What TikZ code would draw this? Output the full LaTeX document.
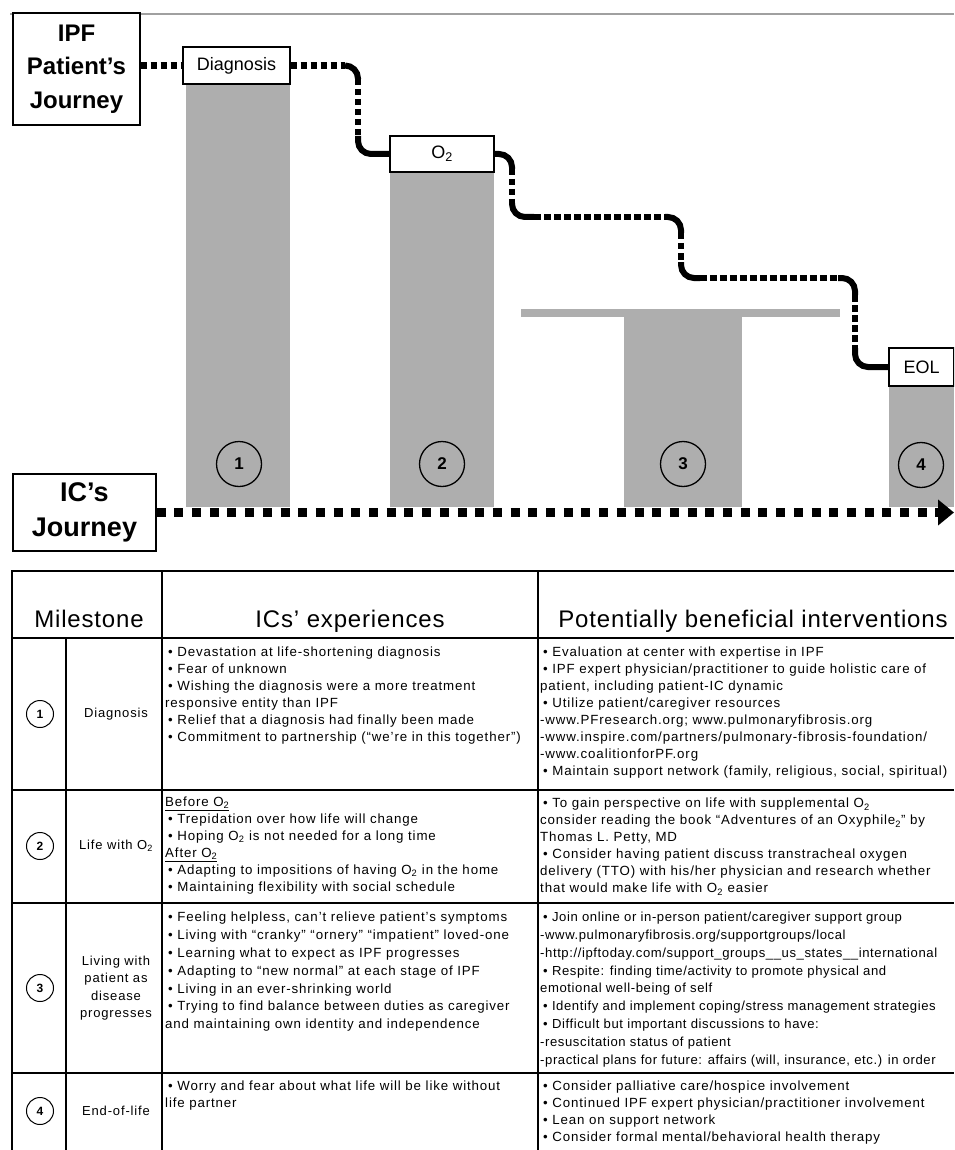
\documentclass[tikz,border=0pt]{standalone}
\usepackage{fontspec}
\setmainfont{Liberation Sans}
\newfontfamily\bodyfont[LetterSpace=6.5]{Liberation Sans}
\newfontfamily\bodyfontn[LetterSpace=4.5]{Liberation Sans}
\newfontfamily\headfont[LetterSpace=3.5]{Liberation Sans}
\usetikzlibrary{arrows.meta}
\definecolor{bargray}{RGB}{174,174,174}
\definecolor{linegray}{RGB}{160,160,160}
\newcommand{\bul}{\hspace*{3pt}•\ }
\newcommand{\Ox}{O\textsubscript{2}}
\begin{document}
\begin{tikzpicture}[x=1pt,y=-1pt,
  box/.style={draw, line width=1.3pt, fill=white, inner sep=0},
  dots/.style={line width=6.5pt, dash pattern=on 6.5pt off 3.5pt},
  bendline/.style={line width=6pt, rounded corners=13pt},
  icdots/.style={line width=9pt, dash pattern=on 9pt off 8.7pt},
  num/.style={draw, circle, line width=1.3pt, minimum size=45pt, inner sep=0, font=\fontsize{17}{17}\selectfont\bfseries},
  tnum/.style={draw, circle, line width=1pt, minimum size=27pt, inner sep=0, font=\fontsize{12}{12}\selectfont\bfseries},
  tline/.style={line width=2.4pt},
  head/.style={anchor=base, inner sep=0, font=\headfont\fontsize{24}{24}\selectfont},
  lbl/.style={inner sep=0, align=center, font=\bodyfont\fontsize{13}{17.5}\selectfont},
  body/.style={anchor=north west, inner sep=0, align=left, font=\bodyfont\fontsize{13.3}{17}\selectfont},
  bodyb/.style={anchor=north west, inner sep=0, align=left, font=\bodyfont\fontsize{13.3}{17.8}\selectfont},
  bodyn/.style={anchor=north west, inner sep=0, align=left, font=\bodyfontn\fontsize{13.1}{17.8}\selectfont}]
\useasboundingbox (0,0) rectangle (954,1150);
\clip (0,0) rectangle (954,1150);
\fill[white] (0,0) rectangle (954,1150);
% top rule
\draw[linegray, line width=2.7pt] (10,14) -- (954,14);
% bars
\fill[bargray] (186,84) rectangle (290,507);
\fill[bargray] (390,172) rectangle (494,507);
\fill[bargray] (521,309) rectangle (840,317);
\fill[bargray] (624,317) rectangle (742,507);
\fill[bargray] (889,386) rectangle (954,507);
% boxes
\node[box, minimum width=127pt, minimum height=112pt, align=center, font=\fontsize{24}{33.5}\selectfont\bfseries] (ipf) at (76.5,69) {IPF\\Patient’s\\Journey};
\node[box, minimum width=107pt, minimum height=37pt, font=\fontsize{18}{18}\selectfont] (diag) at (236.5,65.5) {Diagnosis};
\node[box, minimum width=104pt, minimum height=36pt, font=\fontsize{18}{18}\selectfont] (o2) at (442,154) {\Ox};
\node[box, minimum width=65pt, minimum height=38pt, font=\fontsize{18}{18}\selectfont] (eol) at (921.5,367) {EOL};
\node[box, minimum width=143pt, minimum height=77pt, align=center, font=\fontsize{27}{35}\selectfont\bfseries] (ic) at (84.5,512.5) {IC’s\\Journey};
% circles
\node[num] (n1) at (239,464) {1};
\node[num] (n2) at (442,464) {2};
\node[num] (n3) at (683,464) {3};
\node[num] (n4) at (921,465) {4};
% patient journey path
\coordinate (a1) at (345,65.5);
\coordinate (a2) at (358,65.5);
\coordinate (a3) at (358,79);
\coordinate (a4) at (358,136);
\coordinate (a5) at (358,154);
\coordinate (b1) at (512,154);
\coordinate (b2) at (512,169);
\coordinate (b3) at (512,203);
\coordinate (b4) at (512,217);
\coordinate (b5) at (534,217);
\coordinate (c1) at (665,217);
\coordinate (c2) at (681,217);
\coordinate (c3) at (681,233);
\coordinate (c4) at (681,262);
\coordinate (c5) at (681,278);
\coordinate (c6) at (700,278);
\coordinate (d1) at (838,278);
\coordinate (d2) at (855,278);
\coordinate (d3) at (855,295);
\coordinate (d4) at (855,348);
\coordinate (d5) at (855,367);
\draw[dots] (ipf.east |- diag.west) -- (diag.west);
\draw[dots] (diag.east) -- (a1);
\draw[bendline] (a1) -- (a2) -- (a3);
\draw[dots] (a3) -- (a4);
\draw[bendline] (a4) -- (a5) -- (o2.west);
\draw[bendline] (o2.east) -- (b1) -- (b2);
\draw[dots] (b2) -- (b3);
\draw[bendline] (b3) -- (b4) -- (b5);
\draw[dots] (b5) -- (c1);
\draw[bendline] (c1) -- (c2) -- (c3);
\draw[dots] (c3) -- (c4);
\draw[bendline] (c4) -- (c5) -- (c6);
\draw[dots] (c6) -- (d1);
\draw[bendline] (d1) -- (d2) -- (d3);
\draw[dots] (d3) -- (d4);
\draw[bendline] (d4) -- (d5) -- (eol.west);
% IC journey
\coordinate (icend) at (954,512.5);
\draw[icdots, -{Triangle[length=16pt,width=25pt]}] (ic.east) -- (icend);
% table lines
\draw[tline] (12,571) -- (954,571);
\draw[tline] (12,638) -- (954,638);
\draw[tline] (12,790) -- (954,790);
\draw[tline] (12,903) -- (954,903);
\draw[tline] (12,1073) -- (954,1073);
\draw[tline] (12,570) -- (12,1150);
\draw[tline] (66,638) -- (66,1150);
\draw[tline] (162,570) -- (162,1150);
\draw[tline] (538,570) -- (538,1150);
% header
\node[head] (h1) at (89,627) {Milestone};
\node[head] (h2) at (350,627) {ICs’ experiences};
\node[head] (h3) at (753,627) {Potentially beneficial interventions};
% milestone column
\node[tnum] (t1) at (40,714) {1};
\node[tnum] (t2) at (40,846) {2};
\node[tnum] (t3) at (40,988) {3};
\node[tnum] (t4) at (40,1111) {4};
\node[lbl] (l1) at (116,714) {Diagnosis};
\node[lbl] (l2) at (116,846) {Life with \Ox};
\node[lbl] (l3) at (116,988) {Living with\\patient as\\disease\\progresses};
\node[lbl] (l4) at (116,1111) {End-of-life};
% row 1
\node[body] (e1) at (165,647) {\bul Devastation at life-shortening diagnosis\\
\bul Fear of unknown\\
\bul Wishing the diagnosis were a more treatment\\
responsive entity than IPF\\
\bul Relief that a diagnosis had finally been made\\
\bul Commitment to partnership (“we’re in this together”)};
\node[body] (i1) at (540,647) {\bul Evaluation at center with expertise in IPF\\
\bul IPF expert physician/practitioner to guide holistic care of\\
patient, including patient-IC dynamic\\
\bul Utilize patient/caregiver resources\\
-www.PFresearch.org; www.pulmonaryfibrosis.org\\
-www.inspire.com/partners/pulmonary-fibrosis-foundation/\\
-www.coalitionforPF.org\\
\bul Maintain support network (family, religious, social, spiritual)};
% row 2
\node[body] (e2) at (165,797) {\underline{Before \Ox}\\
\bul Trepidation over how life will change\\
\bul Hoping \Ox{} is not needed for a long time\\
\underline{After \Ox}\\
\bul Adapting to impositions of having \Ox{} in the home\\
\bul Maintaining flexibility with social schedule};
\node[body] (i2) at (540,798) {\bul To gain perspective on life with supplemental \Ox\\
consider reading the book “Adventures of an Oxyphile\textsubscript{2}” by\\
Thomas L. Petty, MD\\
\bul Consider having patient discuss transtracheal oxygen\\
delivery (TTO) with his/her physician and research whether\\
that would make life with \Ox{} easier};
% row 3
\node[bodyb] (e3) at (165,912) {\bul Feeling helpless, can’t relieve patient’s symptoms\\
\bul Living with “cranky” “ornery” “impatient” loved-one\\
\bul Learning what to expect as IPF progresses\\
\bul Adapting to “new normal” at each stage of IPF\\
\bul Living in an ever-shrinking world\\
\bul Trying to find balance between duties as caregiver\\
and maintaining own identity and independence};
\node[bodyn] (i3) at (540,912) {\bul Join online or in-person patient/caregiver support group\\
-www.pulmonaryfibrosis.org/supportgroups/local\\
-http://ipftoday.com/support\_groups\_\_us\_states\_\_international\\
\bul Respite: finding time/activity to promote physical and\\
emotional well-being of self\\
\bul Identify and implement coping/stress management strategies\\
\bul Difficult but important discussions to have:\\
-resuscitation status of patient\\
-practical plans for future: affairs (will, insurance, etc.) in order};
% row 4
\node[body] (e4) at (165,1081) {\bul Worry and fear about what life will be like without\\
life partner};
\node[body] (i4) at (540,1081) {\bul Consider palliative care/hospice involvement\\
\bul Continued IPF expert physician/practitioner involvement\\
\bul Lean on support network\\
\bul Consider formal mental/behavioral health therapy};
\end{tikzpicture}
\end{document}
